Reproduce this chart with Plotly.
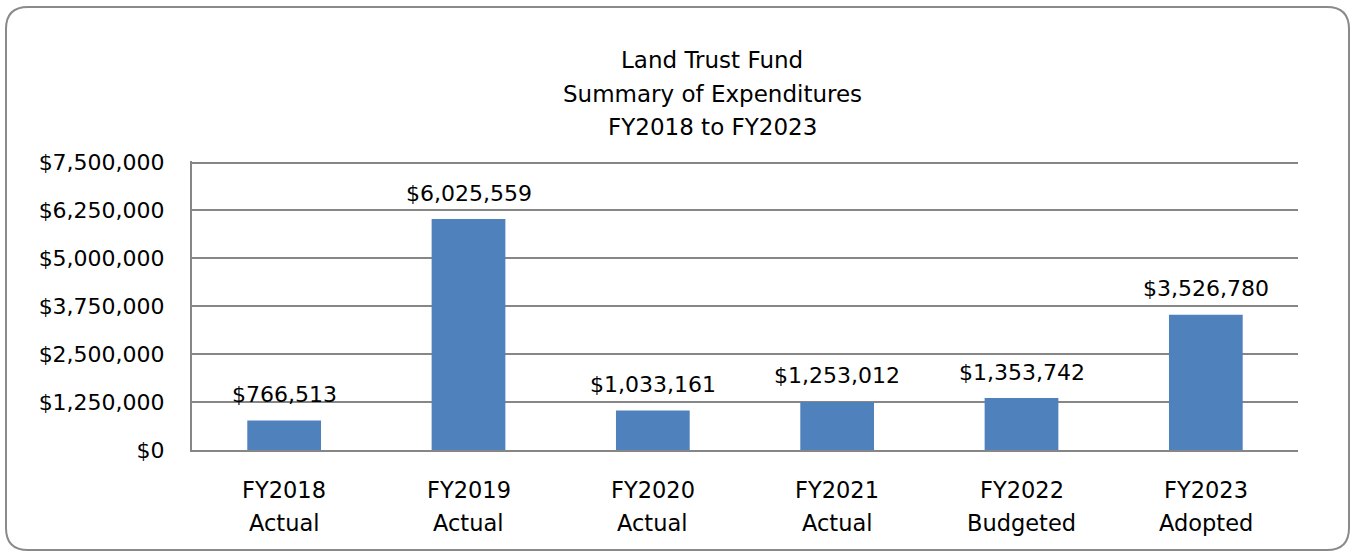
import plotly.graph_objects as go

fiscal_years = ["FY2018", "FY2019", "FY2020", "FY2021", "FY2022", "FY2023"]
statuses = ["Actual", "Actual", "Actual", "Actual", "Budgeted", "Adopted"]
expenditures = [766513, 6025559, 1033161, 1253012, 1353742, 3526780]
title_lines = ["Land Trust Fund", "Summary of Expenditures", "FY2018 to FY2023"]

categories = [f"{fy} {st}" for fy, st in zip(fiscal_years, statuses)]

W, H = 1352, 552
L, R, T, B = 192, 1298, 161, 450
Y_MAX = 7540000  # a little headroom so the $7.5M gridline is drawn
FONT = "DejaVu Sans"


def px_x(p):
    return (p - L) / (R - L)


def px_y(p):
    return (B - p) / (B - T)


fig = go.Figure()

fig.add_trace(go.Bar(
    x=categories,
    y=expenditures,
    marker=dict(color="#4F81BD", line=dict(width=0)),
    hoverinfo="skip",
))

# value labels above the bars
for cat, v in zip(categories, expenditures):
    fig.add_annotation(
        text="${:,}".format(v), xref="x", yref="y",
        x=cat, y=v, yshift=26,
        xanchor="center", yanchor="middle", showarrow=False,
        font=dict(family=FONT, size=22, color="#000000"),
    )

# rounded outer frame
x0, x1 = 6, 1349
y0, y1 = 7, 550
r = 22
path = (
    f"M {px_x(x0 + r)},{px_y(y0)} L {px_x(x1 - r)},{px_y(y0)} "
    f"Q {px_x(x1)},{px_y(y0)} {px_x(x1)},{px_y(y0 + r)} "
    f"L {px_x(x1)},{px_y(y1 - r)} "
    f"Q {px_x(x1)},{px_y(y1)} {px_x(x1 - r)},{px_y(y1)} "
    f"L {px_x(x0 + r)},{px_y(y1)} "
    f"Q {px_x(x0)},{px_y(y1)} {px_x(x0)},{px_y(y1 - r)} "
    f"L {px_x(x0)},{px_y(y0 + r)} "
    f"Q {px_x(x0)},{px_y(y0)} {px_x(x0 + r)},{px_y(y0)} Z"
)
fig.add_shape(type="path", path=path, xref="paper", yref="paper",
              line=dict(color="#8a8a8a", width=2), layer="below")

# three-line title
for i, line in enumerate(title_lines):
    fig.add_annotation(
        text=line, xref="paper", yref="paper",
        x=px_x(712), y=px_y(60 + 33.5 * i),
        xanchor="center", yanchor="middle", showarrow=False,
        font=dict(family=FONT, size=23, color="#000000"),
    )

# two-line category labels
for cat, fy, st in zip(categories, fiscal_years, statuses):
    for j, part in enumerate([fy, st]):
        fig.add_annotation(
            text=part, xref="x", yref="paper",
            x=cat, y=px_y(490 + 33 * j),
            xanchor="center", yanchor="middle", showarrow=False,
            font=dict(family=FONT, size=22.5, color="#000000"),
        )

fig.update_layout(
    width=W, height=H,
    margin=dict(l=L, r=W - R, t=T, b=H - B, autoexpand=False),
    paper_bgcolor="white",
    plot_bgcolor="white",
    showlegend=False,
    bargap=0.6,
    font=dict(family=FONT, size=22, color="#000000"),
    xaxis=dict(
        showline=True, linecolor="#868686", linewidth=2,
        showgrid=False, ticks="", showticklabels=False,
    ),
    yaxis=dict(
        range=[0, Y_MAX], dtick=1250000, tick0=0,
        tickprefix="$", tickformat=",d",
        showline=True, linecolor="#868686", linewidth=2,
        gridcolor="#868686", gridwidth=1.5, zeroline=False,
        ticks="", ticklabelstandoff=21,
        tickfont=dict(family=FONT, size=22),
    ),
)

fig.write_html("out.html", config={"displayModeBar": False},
               post_script="document.body.style.margin='0';")
